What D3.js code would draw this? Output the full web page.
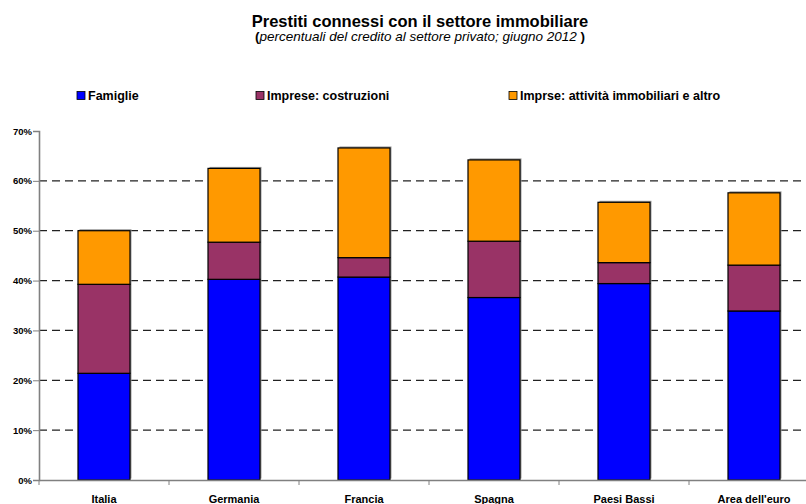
<!DOCTYPE html>
<html>
<head>
<meta charset="utf-8">
<script src="https://cdn.jsdelivr.net/npm/d3@7"></script>
<style>
body { margin: 0; background: #fff; }
text { font-family: "Liberation Sans", Arial, sans-serif; }
</style>
</head>
<body>
<div id="chart"></div>
<script>
var width = 806;
var height = 504;
var margin = {top: 131, right: -13, bottom: 24, left: 39};
var w = width - margin.left - margin.right;
var h = height - margin.top - margin.bottom;

// data
var countries = ["Italia", "Germania", "Francia", "Spagna", "Paesi Bassi", "Area dell'euro"];
var famiglie = [21.4, 40.25, 40.7, 36.6, 39.4, 33.9];
var costruzioni = [17.85, 7.45, 3.9, 11.3, 4.2, 9.2];
var immobiliari = [10.75, 14.8, 22.0, 16.3, 12.1, 14.5];
var seriesNames = ["Famiglie", "Imprese: costruzioni", "Imprse: attività immobiliari e altro"];
var colors = ["#0000ff", "#993366", "#ff9900"];
var yTicks = [0, 10, 20, 30, 40, 50, 60, 70];

var rows = countries.map(function(c, i) {
  return {name: c, fam: famiglie[i], cos: costruzioni[i], imm: immobiliari[i]};
});
var stack = d3.stack().keys(["fam", "cos", "imm"])(rows);

var x = d3.scaleBand()
  .domain(countries)
  .range([0, w])
  .paddingInner(0.6)
  .paddingOuter(0.3);
var band = w / countries.length;

var y = d3.scaleLinear()
  .domain([0, 70])
  .range([h, 0]);

var svg = d3.select("#chart").append("svg")
  .attr("width", width)
  .attr("height", height);

// titles
svg.append("text")
  .attr("x", 420).attr("y", 27)
  .attr("text-anchor", "middle")
  .style("font-size", "16.5px").style("font-weight", "bold")
  .text("Prestiti connessi con il settore immobiliare");
var sub = svg.append("text")
  .attr("x", 420).attr("y", 41)
  .attr("text-anchor", "middle")
  .style("font-size", "13.5px");
sub.append("tspan").style("font-weight", "bold").text("(");
sub.append("tspan").style("font-style", "italic").text("percentuali del credito al settore privato; giugno 2012");
sub.append("tspan").style("font-weight", "bold").text(" )");

// legend
var legendX = [77, 256, 509];
var legend = svg.selectAll(".legend")
  .data(seriesNames)
  .enter().append("g")
  .attr("class", "legend")
  .attr("transform", function(d, i) { return "translate(" + legendX[i] + ",91.5)"; });
legend.append("rect")
  .attr("width", 8).attr("height", 8)
  .attr("fill", function(d, i) { return colors[i]; })
  .attr("stroke", "#000").attr("stroke-width", 0.8);
legend.append("text")
  .attr("x", 11).attr("y", 8.5)
  .style("font-size", "12.5px").style("font-weight", "bold")
  .text(function(d) { return d; });

var g = svg.append("g")
  .attr("transform", "translate(" + margin.left + "," + margin.top + ")");

// gridlines
g.selectAll(".grid")
  .data(yTicks.filter(function(t) { return t > 0 && t < 70; }))
  .enter().append("line")
  .attr("class", "grid")
  .attr("x1", 0).attr("x2", w)
  .attr("y1", function(d) { return y(d); })
  .attr("y2", function(d) { return y(d); })
  .attr("stroke", "#222")
  .attr("stroke-width", 1.2)
  .attr("stroke-dasharray", "8,5");

// bar shadows
g.selectAll(".shadow")
  .data(stack[stack.length - 1])
  .enter().append("rect")
  .attr("class", "shadow")
  .attr("x", function(d) { return x(d.data.name) + 1.5; })
  .attr("width", x.bandwidth())
  .attr("y", function(d) { return y(d[1]) - 1.5; })
  .attr("height", function(d) { return y(0) - y(d[1]); })
  .attr("fill", "#999");

// bars
var layers = g.selectAll(".layer")
  .data(stack)
  .enter().append("g")
  .attr("class", "layer")
  .attr("fill", function(d, i) { return colors[i]; });
layers.selectAll("rect")
  .data(function(d) { return d; })
  .enter().append("rect")
  .attr("x", function(d) { return x(d.data.name); })
  .attr("width", x.bandwidth())
  .attr("y", function(d) { return y(d[1]); })
  .attr("height", function(d) { return y(d[0]) - y(d[1]); })
  .attr("stroke", "#000")
  .attr("stroke-width", 1.2);

// y axis
var yAxis = g.append("g")
  .call(d3.axisLeft(y).tickValues(yTicks).tickSize(6).tickFormat(function(d) { return d + "%"; }));
yAxis.selectAll("text").style("font-size", "9.5px").style("font-weight", "bold").attr("x", -7);
yAxis.select(".domain").attr("stroke", "#808080").attr("stroke-width", 1.6);
yAxis.selectAll(".tick line").attr("stroke", "#808080");

// x axis
var xAxis = g.append("g")
  .attr("transform", "translate(0," + h + ")")
  .call(d3.axisBottom(x).tickSize(0).tickPadding(15));
xAxis.selectAll("text").style("font-size", "11px").style("font-weight", "bold");
xAxis.select(".domain").attr("stroke", "#808080").attr("stroke-width", 1.6);
xAxis.selectAll(".sep")
  .data(d3.range(countries.length + 1))
  .enter().append("line")
  .attr("class", "sep")
  .attr("x1", function(d) { return d * band; })
  .attr("x2", function(d) { return d * band; })
  .attr("y1", 0).attr("y2", 5)
  .attr("stroke", "#808080");
</script>
</body>
</html>
